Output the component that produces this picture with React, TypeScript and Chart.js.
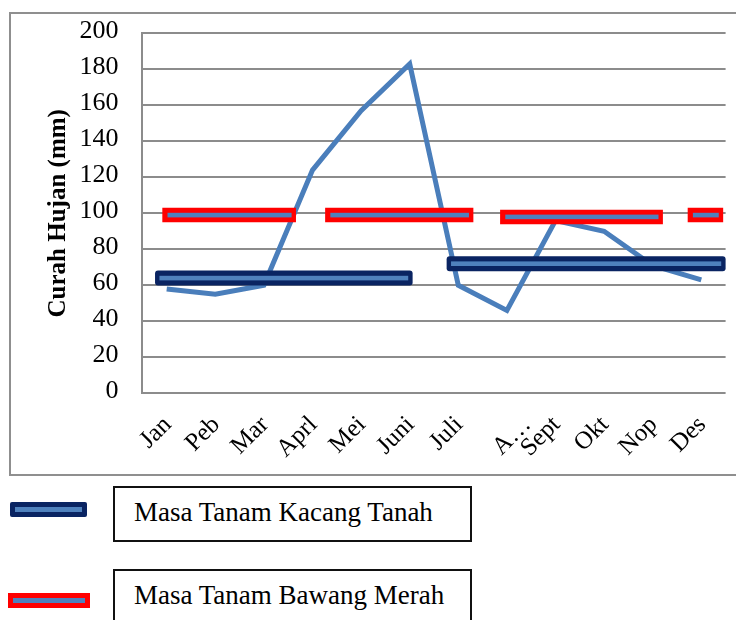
import React, { useEffect, useRef } from 'react';
import { Chart, registerables } from 'chart.js';

Chart.register(...registerables);

// ---------- data ----------
const months = ['Jan', 'Peb', 'Mar', 'Aprl', 'Mei', 'Juni', 'Juli', 'Agustus', 'Sept', 'Okt', 'Nop', 'Des'];
const tickLabels = ['Jan', 'Peb', 'Mar', 'Aprl', 'Mei', 'Juni', 'Juli', 'A…', 'Sept', 'Okt', 'Nop', 'Des'];
const curahHujan = [58, 55, 60, 124, 157, 183, 60, 46, 96, 90, 71, 63];
const yMin = 0;
const yMax = 200;
const yStep = 20;

// planting periods (start / end in month index units, level in mm)
const kacangTanahStart = [-0.24, 5.76];
const kacangTanahEnd = [5.06, 11.5];
const kacangTanahLevel = [64, 72];
const bawangMerahStart = [-0.09, 3.26, 6.86, 10.72];
const bawangMerahEnd = [2.66, 6.31, 10.21, 11.45];
const bawangMerahLevel = [99, 99, 98, 99];

const legendLabels = ['Masa Tanam Kacang Tanah', 'Masa Tanam Bawang Merah'];
const yTitle = 'Curah Hujan (mm)';

// ---------- styles ----------
const FONT = '"Liberation Serif", "Times New Roman", serif';
const NAVY = '#0a2462';
const LIGHT = '#4f81bd';
const RED = '#ff0000';
const LINE = '#4a7ebb';
const GRID = '#8c8c8c';
const labelNudge: Record<number, number> = { 7: 0.4 };

const periodsPlugin = {
  id: 'masaTanam',
  afterDatasetsDraw(chart: any) {
    const { ctx } = chart;
    const x = chart.scales.x;
    const y = chart.scales.y;
    ctx.save();
    const draw = (
      starts: number[], ends: number[], levels: number[],
      outer: string, h: number, r: number, il: number, ir: number
    ) => {
      starts.forEach((s, i) => {
        const x0 = x.getPixelForValue(s);
        const x1 = x.getPixelForValue(ends[i]);
        const yc = y.getPixelForValue(levels[i]);
        ctx.fillStyle = outer;
        ctx.beginPath();
        if (r > 0 && (ctx as any).roundRect) {
          (ctx as any).roundRect(x0, yc - h / 2, x1 - x0, h, r);
        } else {
          ctx.rect(x0, yc - h / 2, x1 - x0, h);
        }
        ctx.fill();
        ctx.fillStyle = LIGHT;
        ctx.fillRect(x0 + il, yc - 2.3, x1 - x0 - il - ir, 4.6);
      });
    };
    draw(kacangTanahStart, kacangTanahEnd, kacangTanahLevel, NAVY, 15, 3, 4.4, 4.4);
    draw(bawangMerahStart, bawangMerahEnd, bawangMerahLevel, RED, 14.5, 0, 5.2, 4.4);
    ctx.restore();
  },
};

const legendStyles = [
  { iconLeft: 10, iconTop: 502, iconW: 77, outer: NAVY, radius: 2, boxTop: 486, boxH: 56, textTop: 499.1 },
  { iconLeft: 8, iconTop: 593, iconW: 82, outer: RED, radius: 0, boxTop: 569, boxH: 70, textTop: 582.4 },
];

export default function App() {
  const ref = useRef<HTMLCanvasElement | null>(null);

  useEffect(() => {
    if (!ref.current) return;
    const chart = new Chart(ref.current, {
      type: 'line',
      data: {
        labels: months,
        datasets: [
          {
            label: 'Curah Hujan',
            data: curahHujan.map((v, i) => ({ x: i, y: v })),
            borderColor: LINE,
            borderWidth: 5,
            pointRadius: 0,
            pointHoverRadius: 0,
            tension: 0,
            borderJoinStyle: 'miter',
            fill: false,
          } as any,
        ],
      },
      options: {
        responsive: false,
        animation: false,
        devicePixelRatio: 1,
        events: [],
        layout: { padding: { top: 33.3, right: 10.4, left: 0, bottom: 0 } },
        plugins: { legend: { display: false }, tooltip: { enabled: false } },
        scales: {
          x: {
            type: 'linear',
            min: -0.5,
            max: 11.5,
            grid: { display: false, drawTicks: false },
            border: { display: false },
            afterBuildTicks: (s: any) => {
              s.ticks = tickLabels.map((_, i) => ({ value: i + (labelNudge[i] || 0) }));
            },
            afterFit: (s: any) => {
              s.height = 86.7;
              s.paddingLeft = 0;
              s.paddingRight = 0;
            },
            ticks: {
              autoSkip: false,
              minRotation: 45,
              maxRotation: 45,
              padding: 17,
              labelOffset: 1,
              color: '#000',
              font: { family: FONT, size: 25 },
              callback: (_v: any, i: number) => tickLabels[i],
            },
          } as any,
          y: {
            min: yMin,
            max: yMax,
            ticks: {
              stepSize: yStep,
              padding: 24,
              labelOffset: -2,
              color: '#000',
              font: { family: FONT, size: 26 },
            },
            grid: { color: GRID, lineWidth: 2, drawTicks: false },
            border: { display: true, color: GRID, width: 2 },
            afterFit: (s: any) => {
              s.width = 142.4;
              s.paddingTop = 0;
              s.paddingBottom = 0;
            },
            title: {
              display: true,
              text: yTitle,
              color: '#000',
              font: { family: FONT, size: 25, weight: 'bold' },
              padding: { top: 43.5, bottom: 0 },
            },
          } as any,
        },
      },
      plugins: [periodsPlugin],
    });
    return () => chart.destroy();
  }, []);

  return (
    <div
      style={{
        position: 'absolute',
        left: 0,
        top: 0,
        width: 736,
        height: 620,
        overflow: 'hidden',
        background: '#fff',
        fontFamily: FONT,
      }}
    >
      <div
        style={{
          position: 'absolute',
          left: 9,
          top: 12,
          width: 780,
          height: 460,
          border: '2px solid #8f8f8f',
        }}
      />
      <canvas ref={ref} width={736} height={480} style={{ position: 'absolute', left: 0, top: 0 }} />
      {legendLabels.map((label, i) => {
        const st = legendStyles[i];
        return (
          <React.Fragment key={label}>
            <div
              style={{
                position: 'absolute',
                left: st.iconLeft,
                top: st.iconTop,
                width: st.iconW,
                height: 15,
                background: st.outer,
                borderRadius: st.radius,
              }}
            >
              <div
                style={{
                  position: 'absolute',
                  left: 5,
                  top: 5.2,
                  width: st.iconW - 10,
                  height: 4.6,
                  background: LIGHT,
                }}
              />
            </div>
            <div
              style={{
                position: 'absolute',
                left: 113,
                top: st.boxTop,
                width: 359,
                height: st.boxH,
                boxSizing: 'border-box',
                border: '2px solid #111',
              }}
            />
            <div
              style={{
                position: 'absolute',
                left: 134,
                top: st.textTop,
                fontSize: 27,
                lineHeight: 1,
                whiteSpace: 'nowrap',
                color: '#000',
              }}
            >
              {label}
            </div>
          </React.Fragment>
        );
      })}
    </div>
  );
}
